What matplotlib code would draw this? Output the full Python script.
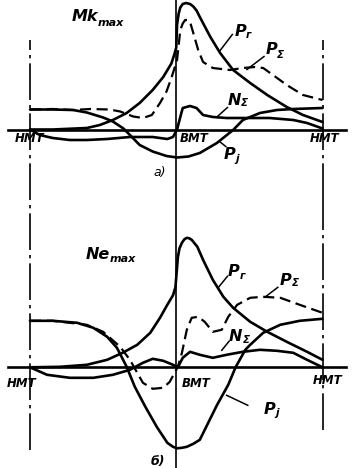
"""Силы и суммарный момент по углу поворота коленвала: а) режим Mk max, б) режим Ne max."""

import matplotlib
matplotlib.use("Agg")
import matplotlib.pyplot as plt

# --- panel а)  Mk max ------------------------------------------------------
# crank angle, deg (0 = НМТ, 180 = ВМТ, 360 = НМТ); forces in relative units
ang_pg_a = [0, 28, 70, 86, 102, 119, 135, 151, 164, 174, 178, 180, 181, 183, 185, 188,
            192, 197, 201, 205, 209, 222, 234, 250, 271, 292, 316, 336, 360]
pg_a = [0, 0, 1.5, 4.5, 9.5, 16.5, 26.5, 39.5, 52.5, 66, 76, 82, 105, 116, 122, 125.5,
        126.5, 125.5, 123, 119, 112.5, 92.5, 76.5, 59.5, 46.5, 34.5, 22.5, 14.5, 7.5]

ang_ps_a = [0, 28, 53, 74, 98, 111, 127, 139, 150, 160, 168, 174, 178.5, 181, 185, 188,
            191, 194, 197, 201, 207, 213, 225, 246, 262, 277, 287, 299, 316, 336, 360]
ps_a = [20, 20.5, 19.5, 20.5, 20, 18, 13, 11.5, 14.5, 26.5, 38, 51.5, 63, 69.5, 99.5, 106,
        109.5, 109.5, 107.5, 96.5, 79.5, 67.5, 61.5, 59.5, 61.5, 62.5, 61.5, 54.5, 44.5,
        34.5, 29.5]

ang_pj_a = [0, 28, 53, 70, 90, 102, 115, 123, 135, 151, 168, 181, 195, 209, 230, 250,
            262, 283, 304, 324, 360]
pj_a = [20, 20, 19.5, 17, 12, 8, 1, -5.5, -15.5, -22, -26.5, -28, -27, -23.5, -13.5, -0.5,
        9.5, 16.5, 19.5, 20.5, 21.5]

ang_ns_a = [0, 12, 28, 49, 70, 95, 123, 151, 169, 176, 181, 185, 188, 197, 205, 213,
            225, 242, 262, 295, 324, 341, 360]
ns_a = [0, -5.5, -8.5, -10.5, -10.5, -9.5, -7.5, -7.5, -9.5, -7.5, 0, 12.5, 21.5, 23.5,
        21.5, 14.5, 12.5, 11.5, 11.5, 11.5, 9.5, 6.5, 1]

# --- panel б)  Ne max ------------------------------------------------------
ang_pg_b = [0, 37, 70, 95, 114, 132, 148, 160, 169, 176, 179, 180.5, 182, 184, 187, 190,
            193, 196, 199, 206, 213, 225, 238, 250, 271, 292, 316, 341, 360]
pg_b = [0, 0.5, 2.5, 7.5, 14.5, 22.5, 34.5, 49.5, 62.5, 72, 80, 95, 110, 119, 124.5, 128,
        129.5, 129, 127.5, 120.5, 107.5, 87.5, 70.5, 59.5, 45.5, 35.5, 25.5, 15.5, 7.5]

ang_ps_b = [0, 28, 70, 90, 111, 123, 132, 139, 151, 164, 172, 178, 182, 187, 193,
            199, 207, 215, 225, 236, 244, 255, 271, 287, 308, 332, 360]
ps_b = [46.5, 46.5, 42.5, 35.5, 20.5, 7.5, -5.5, -15.5, -21.5, -20.5, -14.5, -5.5, 0.5,
        14.5, 37.5, 49.5, 50.5, 45.5, 35.5, 37.5, 50.5, 62.5, 69.5, 70.5, 69.5, 62.5, 54.5]

ang_pj_b = [0, 28, 58, 78, 95, 107, 119, 129, 142, 156, 169, 176, 181, 187, 193, 201,
            209, 230, 244, 253, 265, 271, 287, 308, 332, 360]
pj_b = [46.5, 46.5, 44.5, 39.5, 30.5, 19.5, 0.5, -19.5, -39.5, -59.5, -75.5, -79.5, -81,
        -80.5, -79.5, -76.5, -72.5, -38, -17.5, 0, 17.5, 22.5, 34.5, 42.5, 46.5, 48.5]

ang_ns_b = [0, 21, 49, 78, 102, 123, 139, 151, 164, 176, 182, 188, 197, 209, 225,
            242, 262, 283, 304, 324, 341, 360]
ns_b = [0, -7.5, -10.5, -10.5, -7.5, -2.5, 4.5, 8.5, 6.5, 2.5, 0, 9.5, 15.5, 12.5, 9.5,
        12.5, 15.5, 17.5, 16.5, 14.5, 7.5, 0]

dead_centres = [0, 180, 360]
dc_names = ["НМТ", "ВМТ", "НМТ"]

LW = 1.9
INK = "black"


def _sym(ax, x, y, main, sub, size=11.5, subsize=7.5, dx=9, dy=-4):
    # italic letter with a subscript, placed in data units
    ax.text(x, y, main, fontsize=size, style="italic", fontweight="bold",
            ha="center", va="center", color=INK)
    ax.text(x + dx, y + dy, sub, fontsize=subsize, style="italic", fontweight="bold",
            ha="left", va="center", color=INK)


def _leader(ax, p0, p1):
    ax.plot([p0[0], p1[0]], [p0[1], p1[1]], color=INK, lw=1.1)


def panel(ax, ylim, curves, lines):
    ax.set_xlim(-36.9, 396.3)
    ax.set_ylim(*ylim)
    ax.axis("off")
    ax.axhline(0, xmin=8 / 352, xmax=346 / 352, color=INK, lw=1.9)
    for a, v, style in curves:
        if style == "-":
            ax.plot(a, v, color=INK, lw=LW, solid_capstyle="round",
                    solid_joinstyle="round")
        else:
            ax.plot(a, v, color=INK, lw=1.6, ls=(0, (5, 2.5)))
    for x, lo, hi, ls in lines:
        ax.axvline(x, ymin=lo, ymax=hi, color=INK, lw=1.2, ls=ls)


fig = plt.figure(figsize=(3.52, 4.68), dpi=100)
ax_a = fig.add_axes([0, 1 - 200 / 468, 1, 200 / 468])
ax_b = fig.add_axes([0, 0, 1, 268 / 468])

dashdot = (0, (22, 3, 2, 3))
panel(ax_a, (-70.5, 129.5),
      [(ang_pj_a, pj_a, "-"), (ang_ns_a, ns_a, "-"),
       (ang_pg_a, pg_a, "-"), (ang_ps_a, ps_a, "--")],
      [(dead_centres[0], 0, 0.8, dashdot), (dead_centres[1], 0, 1, "-"),
       (dead_centres[2], 0, 0.8, dashdot)])
panel(ax_b, (-100.7, 167.3),
      [(ang_pj_b, pj_b, "-"), (ang_ns_b, ns_b, "-"),
       (ang_pg_b, pg_b, "-"), (ang_ps_b, ps_b, "--")],
      [(dead_centres[0], 0.067, 1, dashdot), (dead_centres[1], 0, 1, "-"),
       (dead_centres[2], 0.142, 1, dashdot)])

# --- labels, panel а)
_sym(ax_a, 68, 113, "Mk", "max", subsize=8, dx=15, dy=-7)
_sym(ax_a, 259, 98, "P", "г", dx=7, dy=-4)
_leader(ax_a, (249, 95), (234, 79))
_sym(ax_a, 297, 80, "P", "Σ", dx=7, dy=-5)
_leader(ax_a, (288, 73), (267, 60))
_sym(ax_a, 251, 29, "N", "Σ", dx=9, dy=-3)
_leader(ax_a, (243, 22), (230, 12.5))
_sym(ax_a, 246, -25, "P", "j", dx=7, dy=-4)
_leader(ax_a, (241, -17), (234, -12.5))
for x, name, dx in zip(dead_centres, dc_names, [0, 22, 3]):
    ax_a.text(x + dx, -9, name, fontsize=8.5, style="italic", fontweight="bold",
              ha="center", va="center", color=INK)
ax_a.text(160, -43, "а)", fontsize=9, style="italic", ha="center", va="center", color=INK)

# --- labels, panel б)
_sym(ax_b, 84, 113, "Ne", "max", subsize=8, dx=14, dy=-5)
_sym(ax_b, 251, 96, "P", "г", dx=7, dy=-5)
_leader(ax_b, (243, 91), (232, 80))
_sym(ax_b, 315, 87, "P", "Σ", dx=7, dy=-3)
_leader(ax_b, (305, 80), (289, 70))
_sym(ax_b, 253, 31, "N", "Σ", dx=9, dy=-4)
_leader(ax_b, (245, 26), (236, 17))
_sym(ax_b, 295, -42, "P", "j", dx=7, dy=-4)
_leader(ax_b, (268, -38), (242, -28))
for x, name, dx, dy in zip(dead_centres, dc_names, [-10, 24, 6], [-16, -16, -13]):
    ax_b.text(x + dx, dy, name, fontsize=8.5, style="italic", fontweight="bold",
              ha="center", va="center", color=INK)
ax_b.text(157, -94, "б)", fontsize=9, style="italic", fontweight="bold",
          ha="center", va="center", color=INK)

fig.savefig("out.png", dpi=100)
